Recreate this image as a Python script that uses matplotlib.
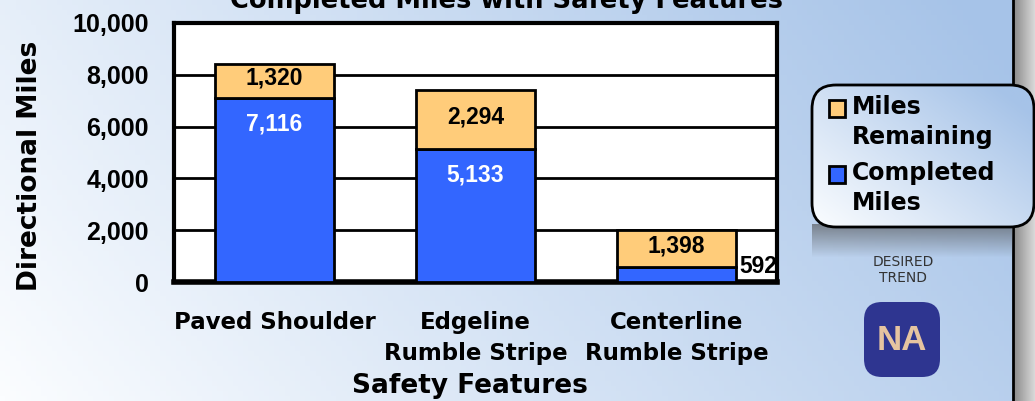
import numpy as np
import matplotlib
matplotlib.use("Agg")
import matplotlib.pyplot as plt
from matplotlib.patches import FancyBboxPatch, Rectangle

# 数据
categories = ["Paved Shoulder", "Edgeline\nRumble Stripe", "Centerline\nRumble Stripe"]
completed = [7116, 5133, 592]
remaining = [1320, 2294, 1398]
yticks = [0, 2000, 4000, 6000, 8000, 10000]

# 颜色
blue = "#3366ff"
orange = "#ffcc7a"
bg_light = np.array([251, 253, 255]) / 255
bg_dark = np.array([166, 195, 232]) / 255

W, H = 1035, 401
fig = plt.figure(figsize=(W / 100, H / 100), dpi=100)

# 背景渐变 (用像素坐标)
bg = fig.add_axes([0, 0, 1, 1], zorder=-10)
bg.set_xlim(0, W)
bg.set_ylim(H, 0)
bg.axis("off")
xx, yy = np.meshgrid(np.linspace(0, 1, 200), np.linspace(0, 1, 80))
t = np.clip(0.8 * xx + 0.25 * (1 - yy), 0, 1)[..., None]
bg.imshow(bg_light * (1 - t) + bg_dark * t, extent=(0, W, H, 0), aspect="auto", zorder=0)

# 右侧灰色边
g = np.linspace(0.55, 0.85, 30)
bg.imshow(np.tile(g, (2, 1)), cmap="gray", vmin=0, vmax=1, extent=(1014, W, H, 0), aspect="auto", zorder=1)
bg.plot([1013, 1013], [0, H], color="black", lw=2, zorder=2)

# 图例阴影
sh = np.zeros((40, 2, 4))
sh[..., :3] = 0.3
sh[..., 3] = np.linspace(0.6, 0, 40)[:, None]
bg.imshow(sh, extent=(812, 1013, 258, 224), aspect="auto", zorder=3)

# 图例框
box = FancyBboxPatch((812, 85), 222, 142, boxstyle="round,pad=0,rounding_size=24",
                     facecolor="none", edgecolor="black", lw=2, zorder=6)
bg.add_patch(box)
fill = FancyBboxPatch((812, 85), 222, 142, boxstyle="round,pad=0,rounding_size=24",
                      facecolor="none", edgecolor="none", zorder=4)
bg.add_patch(fill)
t2 = np.clip(0.6 * xx + 0.5 * (1 - yy), 0, 1)[..., None]
im = bg.imshow(bg_light * (1 - t2) + bg_dark * t2, extent=(812, 1034, 227, 85), aspect="auto", zorder=4)
im.set_clip_path(fill)

bg.add_patch(Rectangle((829, 100), 16, 17, facecolor=orange, edgecolor="black", lw=2, zorder=7))
bg.add_patch(Rectangle((829, 166), 16, 17, facecolor=blue, edgecolor="black", lw=2, zorder=7))
bg.text(852, 95, "Miles\nRemaining", fontsize=17, fontweight="bold", va="top", ha="left",
        linespacing=1.3, zorder=7)
bg.text(852, 161, "Completed\nMiles", fontsize=17, fontweight="bold", va="top", ha="left",
        linespacing=1.3, zorder=7)

# 趋势标记
bg.text(903, 270, "DESIRED\nTREND", fontsize=10, color="#333333", ha="center", va="center",
        linespacing=1.1, zorder=7)
bg.add_patch(FancyBboxPatch((864, 302), 76, 75, boxstyle="round,pad=0,rounding_size=18",
                            facecolor="#2e3590", edgecolor="none", zorder=7))
bg.text(902, 340, "NA", fontsize=25, fontweight="bold", family="Liberation Sans",
        color="#e6c4a0", ha="center", va="center", zorder=8)

# 标题 (上面被截掉, 和原图一样)
fig.text(506 / W, 1 - 8 / H, "Completed Miles with Safety Features", fontsize=18.5,
         fontweight="bold", ha="center", va="baseline")

# 主图
ax = fig.add_axes([174 / W, 1 - 282 / H, 603 / W, 259 / H])
ax.set_facecolor("white")
x = np.arange(len(categories))
w = 0.59
b1 = ax.bar(x, completed, w, color=blue, edgecolor="black", lw=2, zorder=3)
b2 = ax.bar(x, remaining, w, bottom=completed, color=orange, edgecolor="black", lw=2, zorder=3)

ax.set_xlim(-0.5, 2.5)
ax.set_ylim(0, 10000)
ax.set_yticks(yticks)
ax.set_yticklabels([f"{v:,}" for v in yticks], family="Liberation Sans", fontweight="bold", fontsize=18)
ax.set_xticks(x)
ax.set_xticklabels(categories, fontweight="bold", fontsize=16.5, linespacing=1.45)
ax.tick_params(axis="y", length=0, pad=18)
ax.tick_params(axis="x", length=0, pad=21)
ax.yaxis.grid(True, color="black", lw=2)
ax.set_axisbelow(True)
for s in ax.spines.values():
    s.set_linewidth(3)
ax.spines["bottom"].set_linewidth(4)

# 数值标签
for i in range(len(x)):
    ax.text(x[i], completed[i] + remaining[i] / 2 + 100, f"{remaining[i]:,}", ha="center", va="center",
            family="Liberation Sans", fontweight="bold", fontsize=16.5, zorder=5)
    if completed[i] > 2000:
        ax.text(x[i], completed[i] - 1000, f"{completed[i]:,}", ha="center", va="center", color="white",
                family="Liberation Sans", fontweight="bold", fontsize=16.5, zorder=5)
    else:
        ax.text(x[i] + w / 2 + 0.02, completed[i], f"{completed[i]:,}", ha="left", va="center",
                family="Liberation Sans", fontweight="bold", fontsize=16.5, zorder=5)

ax.set_xlabel("Safety Features", fontsize=19, fontweight="bold", va="center")
ax.xaxis.set_label_coords((470 - 174) / 603, (282 - 386) / 259)
ax.set_ylabel("Directional Miles", fontsize=19, fontweight="bold", va="center", ha="center")
ax.yaxis.set_label_coords((30 - 174) / 603, (282 - 166) / 259)

fig.savefig("out.png", dpi=100)
